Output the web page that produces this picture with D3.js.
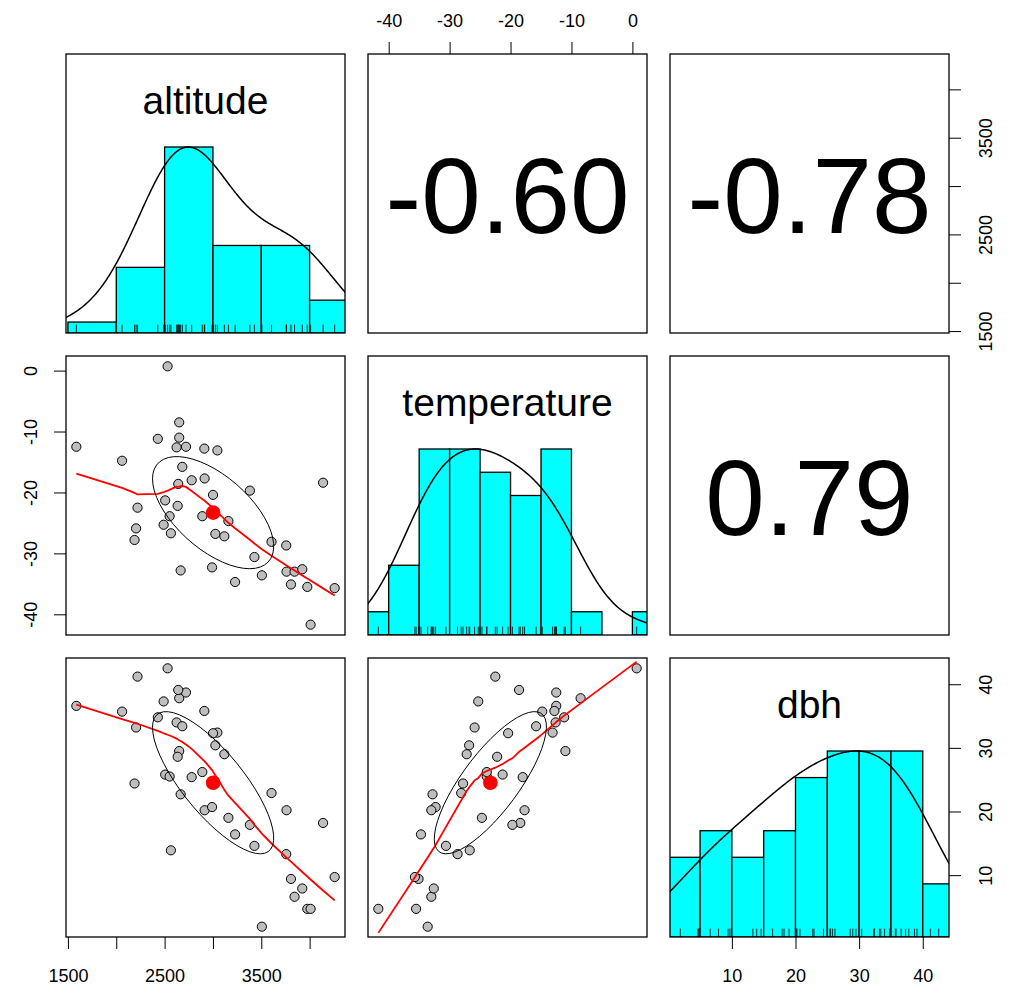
<!DOCTYPE html>
<html>
<head>
<meta charset="utf-8">
<script src="https://cdn.jsdelivr.net/npm/d3@7"></script>
<style>
body { margin: 0; background: #fff; }
svg { display: block; font-family: "Liberation Sans", Arial, sans-serif; }
</style>
</head>
<body>
<div id="chart"></div>
<script>
/*----- Data (43 trees) -----*/

const varNames = ["altitude", "temperature", "dbh"]

const altitude = [2531, 1587, 2651, 2430, 2651, 2624, 2721, 2911, 3046, 2060,
    2683, 2780, 2914, 2641, 4139, 3001, 3382, 2220, 2506, 2635,
    2552, 2890, 3160, 2490, 2205, 2565, 3025, 3118, 2189, 3606,
    3758, 3429, 2666, 2991, 3761, 3844, 3924, 3506, 3229, 3807,
    3976, 4259, 4010]

const temperature = [0.7, -12.5, -8.5, -11.2, -11.0, -12.6, -12.5, -12.8, -13.1, -14.8,
    -15.8, -18.0, -17.7, -18.6, -18.4, -20.4, -19.7, -22.5, -21.3, -22.2,
    -23.9, -23.9, -24.7, -25.3, -25.9, -26.7, -26.8, -27.2, -27.8, -28.1,
    -28.7, -30.6, -32.8, -32.3, -33.0, -33.0, -32.6, -33.6, -34.7, -35.1,
    -35.5, -35.7, -41.7]

const dbh = [42.5, 36.6, 37.8, 34.8, 29.5, 34.0, 38.7, 35.8, 32.4, 35.7,
    33.4, 25.4, 20.2, 39.1, 18.2, 32.3, 17.9, 41.2, 25.8, 28.6,
    25.5, 26.2, 19.0, 37.3, 33.2, 13.9, 30.4, 29.0, 24.4, 22.9,
    13.3, 14.6, 22.7, 20.7, 20.2, 6.6, 7.9, 1.9, 16.4, 9.4,
    4.7, 9.7, 4.7]

// axis ticks and labels (R skips overlapping labels)
const altTicks = [1500, 2000, 2500, 3000, 3500, 4000]
const altTickLabels = ["1500", "", "2500", "", "3500", ""]
const tempTicks = [-40, -30, -20, -10, 0]
const tempTickLabels = ["-40", "-30", "-20", "-10", "0"]
const dbhTicks = [10, 20, 30, 40]
const dbhTickLabels = ["10", "20", "30", "40"]

const variables = [altitude, temperature, dbh]
const ticks = [altTicks, tempTicks, dbhTicks]
const tickLabels = [altTickLabels, tempTickLabels, dbhTickLabels]

/*----- Layout -----*/

const width = 1010, height = 986
const panelSize = 279, gap = 23
const marginLeft = 66, marginTop = 54
const fontFamily = '"Liberation Sans", Arial, sans-serif'

const colX = j => marginLeft + j * (panelSize + gap)
const rowY = i => marginTop + i * (panelSize + gap)

const svg = d3.select("#chart").append("svg")
    .attr("width", width)
    .attr("height", height)

// R pairs: each variable range extended by 4%
function padded(values) {
    const [lo, hi] = d3.extent(values)
    const r = hi - lo
    return [lo - 0.04 * r, hi + 0.04 * r]
}

const xScales = variables.map((v, j) => d3.scaleLinear().domain(padded(v)).range([colX(j), colX(j) + panelSize]))
const yScales = variables.map((v, i) => d3.scaleLinear().domain(padded(v)).range([rowY(i) + panelSize, rowY(i)]))

/*----- Stats helpers -----*/

function pearson(a, b) {
    const ma = d3.mean(a), mb = d3.mean(b)
    let sab = 0, saa = 0, sbb = 0
    a.forEach((v, k) => {
        sab += (v - ma) * (b[k] - mb)
        saa += (v - ma) ** 2
        sbb += (b[k] - mb) ** 2
    })
    return sab / Math.sqrt(saa * sbb)
}

// port of R's clowess
function lowest(x, y, xs, nleft, nright, rw) {
    const n = x.length
    const range = x[n - 1] - x[0]
    const h = Math.max(xs - x[nleft], x[nright] - xs)
    const h9 = 0.999 * h, h1 = 0.001 * h
    const w = new Array(n).fill(0)
    let a = 0, j = nleft
    while (j < n) {
        w[j] = 0
        const r = Math.abs(x[j] - xs)
        if (r <= h9) {
            w[j] = r <= h1 ? 1 : (1 - (r / h) ** 3) ** 3
            if (rw) w[j] *= rw[j]
            a += w[j]
        } else if (x[j] > xs) break
        j++
    }
    const nrt = j - 1
    if (a <= 0) return null
    for (j = nleft; j <= nrt; j++) w[j] /= a
    if (h > 0) {
        a = 0
        for (j = nleft; j <= nrt; j++) a += w[j] * x[j]
        let b = xs - a, c = 0
        for (j = nleft; j <= nrt; j++) c += w[j] * (x[j] - a) ** 2
        if (Math.sqrt(c) > 0.001 * range) {
            b /= c
            for (j = nleft; j <= nrt; j++) w[j] *= b * (x[j] - a) + 1
        }
    }
    let ys = 0
    for (j = nleft; j <= nrt; j++) ys += w[j] * y[j]
    return ys
}

function lowess(xv, yv, f = 2 / 3, nsteps = 3) {
    const idx = d3.range(xv.length).sort((a, b) => xv[a] - xv[b] || a - b)
    const x = idx.map(k => xv[k]), y = idx.map(k => yv[k])
    const n = x.length
    const delta = 0.01 * (x[n - 1] - x[0])
    const ns = Math.max(Math.min(Math.floor(f * n + 1e-7), n), 2)
    const fit = new Array(n).fill(0), rw = new Array(n).fill(1), res = new Array(n).fill(0)
    for (let iter = 1; iter <= nsteps + 1; iter++) {
        let nleft = 0, nright = ns - 1, last = -1, i = 0
        for (;;) {
            if (nright < n - 1) {
                if (x[i] - x[nleft] > x[nright + 1] - x[i]) { nleft++; nright++; continue }
            }
            const v = lowest(x, y, x[i], nleft, nright, iter > 1 ? rw : null)
            fit[i] = v === null ? y[i] : v
            if (last < i - 1) {
                const denom = x[i] - x[last]
                for (let j = last + 1; j < i; j++) {
                    const alpha = (x[j] - x[last]) / denom
                    fit[j] = alpha * fit[i] + (1 - alpha) * fit[last]
                }
            }
            last = i
            const cut = x[last] + delta
            for (i = last + 1; i < n; i++) {
                if (x[i] > cut) break
                if (x[i] === x[last]) { fit[i] = fit[last]; last = i }
            }
            i = Math.max(last + 1, i - 1)
            if (last >= n - 1) break
        }
        for (let k = 0; k < n; k++) res[k] = y[k] - fit[k]
        if (iter > nsteps) break
        const sc = d3.sum(res, Math.abs) / n
        const sorted = res.map(Math.abs).sort((a, b) => a - b)
        const m1 = Math.floor(n / 2)
        const cmad = n % 2 === 0 ? 3 * (sorted[m1] + sorted[n - m1 - 1]) : 6 * sorted[m1]
        if (cmad < 1e-7 * sc) break
        const c9 = 0.999 * cmad, c1 = 0.001 * cmad
        for (let k = 0; k < n; k++) {
            const r = Math.abs(res[k])
            rw[k] = r <= c1 ? 1 : r <= c9 ? (1 - (r / cmad) ** 2) ** 2 : 0
        }
    }
    return x.map((v, k) => [v, fit[k]])
}

// density(x, bw = "nrd", adjust = 1.2), rescaled to max 1
function density(values) {
    const n = values.length
    const sd = d3.deviation(values)
    const iqr = d3.quantile(values, 0.75) - d3.quantile(values, 0.25)
    const bw = 1.2 * 1.06 * Math.min(sd, iqr / 1.34) * Math.pow(n, -0.2)
    const [lo, hi] = d3.extent(values)
    const grid = d3.range(512).map(k => lo - 3 * bw + k * (hi - lo + 6 * bw) / 511)
    const dens = grid.map(g => d3.sum(values, v => Math.exp(-0.5 * ((g - v) / bw) ** 2)))
    const m = d3.max(dens)
    return grid.map((g, k) => [g, dens[k] / m])
}

// Sturges breaks, right-closed counts like hist()
function histogram(values) {
    const k = Math.ceil(Math.log2(values.length) + 1)
    const [mn, mx] = d3.extent(values)
    const step = d3.tickStep(mn, mx, k)
    const lo = Math.floor(mn / step) * step
    const hi = Math.ceil(mx / step) * step
    const breaks = d3.range(lo, hi + step / 2, step)
    const bins = breaks.slice(0, -1).map((b, i) => ({
        x0: b, x1: breaks[i + 1],
        count: values.filter(v => (i === 0 ? v >= b : v > b) && v <= breaks[i + 1]).length
    }))
    const maxCount = d3.max(bins, d => d.count)
    bins.forEach(d => d.y = d.count / maxCount)
    return bins
}

/*----- Panels -----*/

const defs = svg.append("defs")

variables.forEach((vi, i) => {
    variables.forEach((vj, j) => {
        const x0 = colX(j), y0 = rowY(i)
        defs.append("clipPath").attr("id", `clip-${i}-${j}`)
            .append("rect").attr("x", x0).attr("y", y0).attr("width", panelSize).attr("height", panelSize)

        const g = svg.append("g").attr("clip-path", `url(#clip-${i}-${j})`)
        const xs = xScales[j]

        if (i === j) {
            // diagonal: histogram + density + rug + name
            const ys = d3.scaleLinear().domain([0, 1.5]).range([y0 + panelSize, y0])
            g.selectAll("rect.bar")
                .data(histogram(vi).filter(d => d.count > 0))
                .join("rect")
                .attr("class", "bar")
                .attr("x", d => xs(d.x0))
                .attr("width", d => xs(d.x1) - xs(d.x0))
                .attr("y", d => ys(d.y))
                .attr("height", d => ys(0) - ys(d.y))
                .attr("fill", "#00FFFF")
                .attr("stroke", "#000")
                .attr("stroke-width", 1.3)
            g.append("path")
                .attr("d", d3.line().x(d => xs(d[0])).y(d => ys(d[1]))(density(vi)))
                .attr("fill", "none")
                .attr("stroke", "#000")
                .attr("stroke-width", 1.5)
            g.selectAll("line.rug")
                .data(vi)
                .join("line")
                .attr("class", "rug")
                .attr("x1", d => xs(d)).attr("x2", d => xs(d))
                .attr("y1", y0 + panelSize).attr("y2", y0 + panelSize - 0.03 * panelSize)
                .attr("stroke", "#000")
                .attr("stroke-width", 0.8)
            svg.append("text")
                .attr("x", x0 + panelSize / 2)
                .attr("y", y0 + 60)
                .attr("text-anchor", "middle")
                .attr("font-size", 39)
                .text(varNames[i])
        } else if (i > j) {
            // lower: scatter + lowess + correlation ellipse
            const ys = yScales[i]
            g.selectAll("circle.pt")
                .data(vj.map((v, k) => [v, vi[k]]))
                .join("circle")
                .attr("class", "pt")
                .attr("cx", d => xs(d[0]))
                .attr("cy", d => ys(d[1]))
                .attr("r", 4.6)
                .attr("fill", "#BEBEBE")
                .attr("stroke", "#000")
                .attr("stroke-width", 1)
            g.append("path")
                .attr("d", d3.line().x(d => xs(d[0])).y(d => ys(d[1]))(lowess(vj, vi)))
                .attr("fill", "none")
                .attr("stroke", "#FF0000")
                .attr("stroke-width", 1.8)

            const r = pearson(vj, vi)
            const mx = d3.mean(vj), my = d3.mean(vi)
            const sx = d3.deviation(vj), sy = d3.deviation(vi)
            const theta = Math.sign(r) / Math.SQRT2
            const ellipse = d3.range(52).map(k => {
                const a = k * 2 * Math.PI / 51
                const c = Math.cos(a), s = Math.sin(a)
                const ex = c * Math.sqrt(1 + r) * theta - s * Math.sqrt(1 - r) * theta
                const ey = c * Math.sqrt(1 + r) * theta + s * Math.sqrt(1 - r) * theta
                return [ex * sx + mx, ey * sy + my]
            })
            g.append("path")
                .attr("d", d3.line().x(d => xs(d[0])).y(d => ys(d[1]))(ellipse))
                .attr("fill", "none")
                .attr("stroke", "#000")
                .attr("stroke-width", 1)
            g.append("circle")
                .attr("cx", xs(mx))
                .attr("cy", ys(my))
                .attr("r", 7.3)
                .attr("fill", "#FF0000")
        } else {
            // upper: correlation value
            const r = pearson(vj, vi)
            svg.append("text")
                .attr("x", x0 + panelSize / 2)
                .attr("y", y0 + panelSize / 2 + 39)
                .attr("text-anchor", "middle")
                .attr("font-size", 107)
                .text(r.toFixed(2))
        }

        svg.append("rect")
            .attr("x", x0).attr("y", y0)
            .attr("width", panelSize).attr("height", panelSize)
            .attr("fill", "none")
            .attr("stroke", "#000")
            .attr("stroke-width", 1.3)
    })
})

/*----- Axes (alternating sides like pairs()) -----*/

function styleAxis(sel) {
    sel.select(".domain").remove()
    sel.attr("font-size", 18).attr("font-family", fontFamily)
    sel.selectAll(".tick line").attr("stroke-width", 1)
    sel.selectAll(".tick text").attr("fill", "#000")
}

const bottomY = rowY(2) + panelSize
const rightX = colX(2) + panelSize

// bottom: altitude, dbh
;[0, 2].forEach(j => {
    svg.append("g")
        .attr("transform", `translate(0,${bottomY})`)
        .call(d3.axisBottom(xScales[j]).tickValues(ticks[j]).tickFormat((d, k) => tickLabels[j][k])
            .tickSize(12).tickPadding(20))
        .call(styleAxis)
})

// top: temperature
svg.append("g")
    .attr("transform", `translate(0,${marginTop})`)
    .call(d3.axisTop(xScales[1]).tickValues(ticks[1]).tickFormat((d, k) => tickLabels[1][k])
        .tickSize(12).tickPadding(15))
    .call(styleAxis)

// left: temperature (rotated labels)
svg.append("g")
    .attr("transform", `translate(${marginLeft},0)`)
    .call(d3.axisLeft(yScales[1]).tickValues(ticks[1]).tickFormat((d, k) => tickLabels[1][k]).tickSize(12))
    .call(styleAxis)
    .selectAll(".tick text")
    .attr("x", 0).attr("dy", 0)
    .attr("text-anchor", "middle")
    .attr("transform", "translate(-29,0) rotate(-90)")

// right: altitude, dbh (rotated labels)
;[0, 2].forEach(i => {
    svg.append("g")
        .attr("transform", `translate(${rightX},0)`)
        .call(d3.axisRight(yScales[i]).tickValues(ticks[i]).tickFormat((d, k) => tickLabels[i][k]).tickSize(12))
        .call(styleAxis)
        .selectAll(".tick text")
        .attr("x", 0).attr("dy", 0)
        .attr("text-anchor", "middle")
        .attr("transform", "translate(43,0) rotate(-90)")
})
</script>
</body>
</html>
